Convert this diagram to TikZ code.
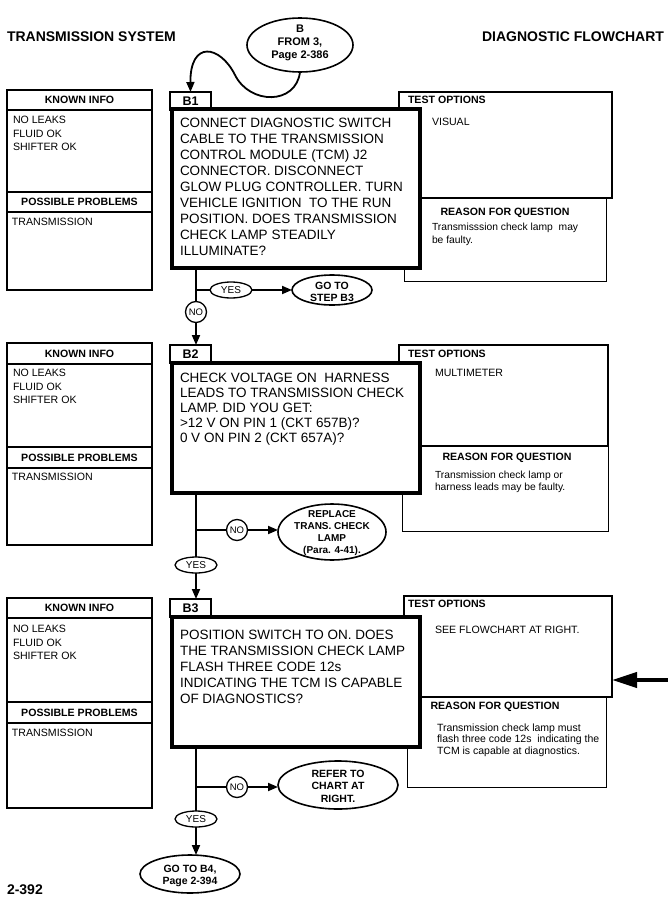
\documentclass[tikz,border=0pt]{standalone}
\usepackage{fontspec}
\setmainfont{Liberation Sans}
\usetikzlibrary{shapes.geometric,arrows.meta}
\begin{document}
\begin{tikzpicture}[x=1pt,y=-1pt,
  every node/.style={inner sep=0pt, outer sep=0pt},
  hdr/.style={font=\fontsize{14}{16}\selectfont\bfseries},
  infobox/.style={draw, line width=1.1pt},
  lbl/.style={draw, line width=1.2pt, fill=white, minimum width=41pt, minimum height=18pt, font=\fontsize{12.5}{14}\selectfont\bfseries},
  mainbox/.style={draw, line width=3.6pt, fill=white},
  bodytxt/.style={align=left, anchor=north west},
  small/.style={font=\fontsize{10.6}{13.5}\selectfont},
  smallb/.style={font=\fontsize{10.6}{12}\selectfont\bfseries},
  tobox/.style={draw, line width=1.6pt, fill=white},
  rqbox/.style={draw, line width=1pt, fill=white},
  ovalshape/.style={draw, ellipse, line width=1.6pt, fill=white},
  ovaltxt/.style={align=center, font=\fontsize{10.5}{12}\selectfont\bfseries},
  yesoval/.style={draw, ellipse, line width=1.3pt, minimum width=42pt, minimum height=16pt, font=\fontsize{10}{10}\selectfont, fill=white},
  nocirc/.style={draw, circle, line width=1.3pt, minimum size=21pt, font=\fontsize{9.5}{10}\selectfont, fill=white},
  conn/.style={line width=1.8pt},
  arr/.style={conn, -{Triangle[length=10pt,width=8pt]}},
]
\fill[white] (0,0) rectangle (668,907);
\useasboundingbox (0,0) rectangle (668,907);

% headers
\node[hdr, anchor=west] (title) at (7,37) {TRANSMISSION SYSTEM};
\node[hdr, anchor=east] (title2) at (664,37) {DIAGNOSTIC FLOWCHART};

% start oval
\node[ovalshape, minimum width=106pt, minimum height=54pt] (bstart) at (300,45) {};
\node[ovaltxt, font=\fontsize{11}{13}\selectfont\bfseries] (bstart-t) at (300,42.5) {B\\FROM 3,\\Page 2-386};

% ================= BLOCK 1 =================
\node[infobox, minimum width=145pt, minimum height=200pt, anchor=north west] (kb1) at (7,90) {};
\draw[line width=1.1pt] (7,110) -- (152,110) (7,192) -- (152,192) (7,212) -- (152,212);
\node[smallb] (ki1) at (79.5,100) {KNOWN INFO};
\node[small, align=left, anchor=north west] (kt1) at (13,116.5) {NO LEAKS\\FLUID OK\\SHIFTER OK};
\node[smallb] (pp1) at (79.5,202) {POSSIBLE PROBLEMS};
\node[small, anchor=west] (pt1) at (12,222) {TRANSMISSION};

\node[rqbox, minimum width=202pt, minimum height=83pt, anchor=north west] (rq1) at (404,198) {};
\node[tobox, minimum width=213pt, minimum height=106pt, anchor=north west] (to1) at (399,92) {};
\node[smallb, anchor=west] (tot1) at (408,100) {TEST OPTIONS};
\node[small, anchor=west] (tov1) at (432,122) {VISUAL};
\node[smallb] (rqt1) at (505,213) {REASON FOR QUESTION};
\node[small, align=left, anchor=north west, font=\fontsize{10.3}{13}\selectfont] (rqx1) at (432,223) {Transmisssion check lamp \ may\\be faulty.};

\node[lbl, anchor=north west] (lb1) at (170,92) {B1};
\node[mainbox, minimum width=248pt, minimum height=159pt, anchor=north west] (mb1) at (172,109) {};
\node[bodytxt, font=\fontsize{13.5}{16}\selectfont] (bt1) at (180,118.4) {CONNECT DIAGNOSTIC SWITCH\\CABLE TO THE TRANSMISSION\\CONTROL MODULE (TCM) J2\\CONNECTOR. DISCONNECT\\GLOW PLUG CONTROLLER. TURN\\VEHICLE IGNITION \ TO THE RUN\\POSITION. DOES TRANSMISSION\\CHECK LAMP STEADILY\\ILLUMINATE?};

\draw[conn, -{Triangle[length=10pt,width=8pt]}] (bstart.south) .. controls (296,105) and (250,105) .. (235,75) .. controls (220,45) and (190,40) .. (lb1.north);

\coordinate (j1) at (196,290);
\node[nocirc] (no1) at (196,312) {NO};
\node[yesoval] (yes1) at (231,290) {YES};
\node[ovalshape, minimum width=80pt, minimum height=30pt] (goto1) at (332,290) {};
\node[ovaltxt] (goto1-t) at (332,292) {GO TO\\STEP B3};
\draw[conn] (j1 |- mb1.south) -- (no1.north);
\draw[conn] (j1) -- (yes1.west);
\draw[arr] (yes1.east) -- (goto1.west);

% ================= BLOCK 2 =================
\node[infobox, minimum width=145pt, minimum height=202pt, anchor=north west] (kb2) at (7,343) {};
\draw[line width=1.1pt] (7,364) -- (152,364) (7,447) -- (152,447) (7,468) -- (152,468);
\node[smallb] (ki2) at (79.5,353.5) {KNOWN INFO};
\node[small, align=left, anchor=north west] (kt2) at (13,369.5) {NO LEAKS\\FLUID OK\\SHIFTER OK};
\node[smallb] (pp2) at (79.5,457.5) {POSSIBLE PROBLEMS};
\node[small, anchor=west] (pt2) at (12,477) {TRANSMISSION};

\node[rqbox, minimum width=206pt, minimum height=85pt, anchor=north west] (rq2) at (402,446) {};
\node[tobox, minimum width=209pt, minimum height=101pt, anchor=north west] (to2) at (399,345) {};
\node[smallb, anchor=west] (tot2) at (408,354) {TEST OPTIONS};
\node[small, anchor=west] (tov2) at (435,373) {MULTIMETER};
\node[smallb] (rqt2) at (507,458) {REASON FOR QUESTION};
\node[small, align=left, anchor=north west, font=\fontsize{10.3}{12.3}\selectfont] (rqx2) at (435,471) {Transmission check lamp or\\harness leads may be faulty.};

\node[lbl, anchor=north west] (lb2) at (170,345) {B2};
\node[mainbox, minimum width=248pt, minimum height=130pt, anchor=north west] (mb2) at (172,363) {};
\node[bodytxt, font=\fontsize{13.5}{15}\selectfont] (bt2) at (180,373.4) {CHECK VOLTAGE ON \ HARNESS\\LEADS TO TRANSMISSION CHECK\\LAMP. DID YOU GET:\\>12 V ON PIN 1 (CKT 657B)?\\0 V ON PIN 2 (CKT 657A)?};

\draw[arr] (no1.south) -- (no1.south |- lb2.north);

\coordinate (j2) at (196,530);
\node[nocirc] (no2) at (237,530) {NO};
\node[yesoval] (yes2) at (196,565) {YES};
\node[ovalshape, minimum width=108pt, minimum height=56pt] (rep2) at (332,532) {};
\node[ovaltxt, font=\fontsize{10}{11.8}\selectfont\bfseries] (rep2-t) at (332,533) {REPLACE\\TRANS. CHECK\\LAMP\\(Para. 4-41).};
\draw[conn] (j2 |- mb2.south) -- (yes2.north);
\draw[conn] (j2) -- (no2.west);
\draw[arr] (no2.east) -- (no2.east -| rep2.west);

% ================= BLOCK 3 =================
\node[infobox, minimum width=145pt, minimum height=210pt, anchor=north west] (kb3) at (7,598) {};
\draw[line width=1.1pt] (7,618) -- (152,618) (7,702) -- (152,702) (7,723) -- (152,723);
\node[smallb] (ki3) at (79.5,608) {KNOWN INFO};
\node[small, align=left, anchor=north west] (kt3) at (13,625.5) {NO LEAKS\\FLUID OK\\SHIFTER OK};
\node[smallb] (pp3) at (79.5,712.5) {POSSIBLE PROBLEMS};
\node[small, anchor=west] (pt3) at (12,733) {TRANSMISSION};

\node[rqbox, minimum width=199pt, minimum height=90pt, anchor=north west] (rq3) at (407,697) {};
\node[tobox, minimum width=208pt, minimum height=101pt, anchor=north west] (to3) at (404,596) {};
\node[smallb, anchor=west] (tot3) at (408,604) {TEST OPTIONS};
\node[small, anchor=west] (tov3) at (435,630) {SEE FLOWCHART AT RIGHT.};
\node[smallb] (rqt3) at (495,707) {REASON FOR QUESTION};
\node[small, align=left, anchor=north west, font=\fontsize{10.5}{11.7}\selectfont] (rqx3) at (437,723.5) {Transmission check lamp must\\flash three code 12s \ indicating the\\TCM is capable at diagnostics.};

\node[lbl, anchor=north west] (lb3) at (170,599) {B3};
\node[mainbox, minimum width=248pt, minimum height=130pt, anchor=north west] (mb3) at (172,617) {};
\node[bodytxt, font=\fontsize{13.5}{15.8}\selectfont] (bt3) at (180,630.4) {POSITION SWITCH TO ON. DOES\\THE TRANSMISSION CHECK LAMP\\FLASH THREE CODE 12s\\INDICATING THE TCM IS CAPABLE\\OF DIAGNOSTICS?};

\draw[arr] (yes2.south) -- (yes2.south |- lb3.north);

\coordinate (ra) at (668,680);
\draw[line width=4pt, -{Triangle[length=25pt,width=15pt]}] (ra) -- (ra -| to3.east);

\coordinate (j3) at (196,787);
\node[nocirc] (no3) at (237,787) {NO};
\node[yesoval] (yes3) at (196,819) {YES};
\node[ovalshape, minimum width=120pt, minimum height=48pt] (ref3) at (338,785) {};
\node[ovaltxt, font=\fontsize{10.5}{12.5}\selectfont\bfseries] (ref3-t) at (338,786) {REFER TO\\CHART AT\\RIGHT.};
\draw[conn] (j3 |- mb3.south) -- (yes3.north);
\draw[conn] (j3) -- (no3.west);
\draw[arr] (no3.east) -- (no3.east -| ref3.west);

\node[ovalshape, minimum width=100pt, minimum height=38pt] (gob4) at (190,874) {};
\node[ovaltxt, font=\fontsize{10.5}{12}\selectfont\bfseries] (gob4-t) at (190,876) {GO TO B4,\\Page 2-394};
\draw[arr] (yes3.south) -- (yes3.south |- gob4.north);

\node[font=\fontsize{14}{16}\selectfont\bfseries, anchor=west] (pg) at (7,890) {2-392};
\end{tikzpicture}
\end{document}
